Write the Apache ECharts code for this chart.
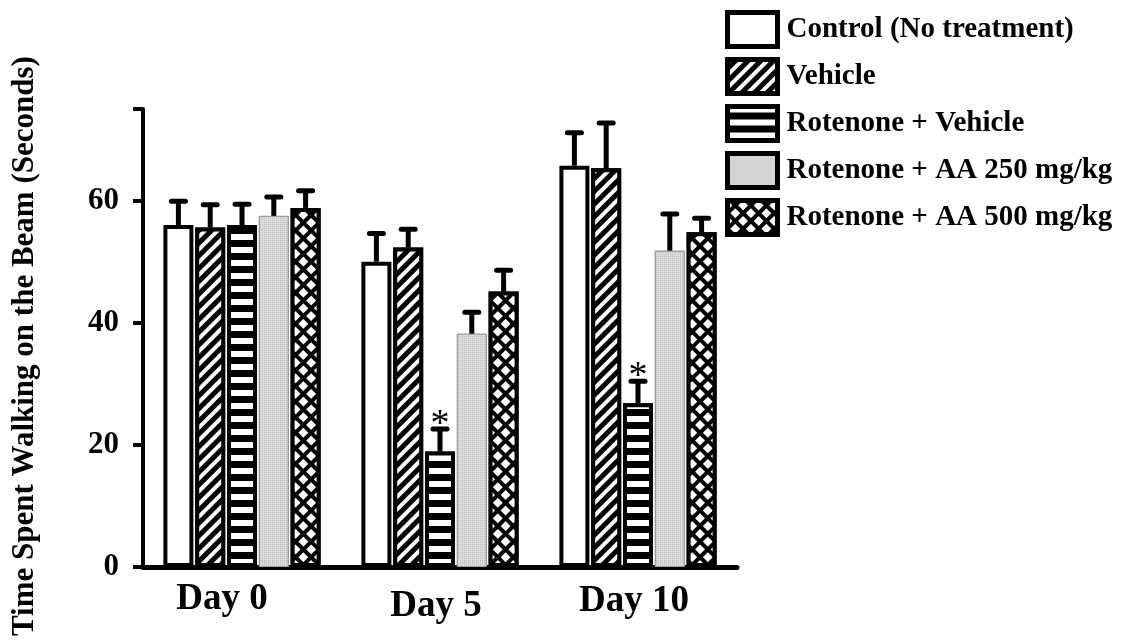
<!DOCTYPE html>
<html>
<head>
<meta charset="utf-8">
<script src="https://cdn.jsdelivr.net/npm/echarts@6/dist/echarts.min.js"></script>
<style>html,body{margin:0;padding:0;background:#fff}#c{width:1128px;height:640px}</style>
</head>
<body>
<div id="c"></div>
<script>
const categories = ['Day 0', 'Day 5', 'Day 10'];
const seriesNames = ['Control (No treatment)', 'Vehicle', 'Rotenone + Vehicle', 'Rotenone + AA 250 mg/kg', 'Rotenone + AA 500 mg/kg'];
const controlMean = [56.0, 50.0, 65.7];
const vehicleMean = [55.6, 52.3, 65.3];
const rotVehMean = [56.0, 18.9, 26.8];
const aa250Mean = [57.5, 38.2, 51.8];
const aa500Mean = [58.8, 45.1, 54.8];
const controlErr = [3.9, 4.6, 5.4];
const vehicleErr = [3.7, 3.0, 7.4];
const rotVehErr = [3.4, 3.7, 3.6];
const aa250Err = [3.1, 3.5, 6.0];
const aa500Err = [2.8, 3.5, 2.3];
const rotVehSig = ['', '*', '*'];
const yTicks = [0, 20, 40, 60];
const yTitle = 'Time Spent Walking on the Beam (Seconds)';

const means = [controlMean, vehicleMean, rotVehMean, aa250Mean, aa500Mean];
const errs = [controlErr, vehicleErr, rotVehErr, aa250Err, aa500Err];
const sigs = [['', '', ''], ['', '', ''], rotVehSig, ['', '', ''], ['', '', '']];

const FONT = '"Liberation Serif", "Times New Roman", serif';
const BAR_W = 30;
const GAP_RATIO = 0.06;
const n = seriesNames.length;
const gapPx = BAR_W * GAP_RATIO;
const total = n * BAR_W + (n - 1) * gapPx;
function offsetOf(i) { return -total / 2 + i * (BAR_W + gapPx) + BAR_W / 2; }

const styles = [
  { color: '#ffffff', borderColor: '#000', borderWidth: 4 },
  { color: '#000000', borderColor: '#000', borderWidth: 4,
    decal: { symbol: 'rect', color: '#ffffff', dashArrayX: [1, 0], dashArrayY: [4, 5], symbolSize: 1, rotation: -Math.PI / 4 } },
  { color: '#000000', borderColor: '#000', borderWidth: 4,
    decal: { symbol: 'rect', color: '#ffffff', dashArrayX: [1, 0], dashArrayY: [6, 7], symbolSize: 1, rotation: 0 } },
  { color: '#dcdcdc', borderColor: '#9a9a9a', borderWidth: 1,
    decal: { symbol: 'rect', color: '#bdbdbd', dashArrayX: [1, 1], dashArrayY: [1, 1], symbolSize: 1, rotation: 0 } },
  { color: '#000000', borderColor: '#000', borderWidth: 4,
    decal: { symbol: 'rect', color: '#ffffff', dashArrayX: [7, 4], dashArrayY: [7, 4], symbolSize: 1, rotation: Math.PI / 4 } }
];

const series = [];
seriesNames.forEach((name, i) => {
  series.push({
    name: name, type: 'bar', barWidth: BAR_W, barGap: (GAP_RATIO * 100) + '%',
    data: means[i], itemStyle: styles[i], z: 2, silent: true
  });
});
seriesNames.forEach((name, i) => {
  series.push({
    name: name + ' err', type: 'custom', z: 3, silent: true,
    data: means[i].map((m, k) => [k, m, errs[i][k]]),
    encode: { x: 0, y: 1 },
    renderItem: function (params, api) {
      const k = api.value(0), m = api.value(1), e = api.value(2);
      const p0 = api.coord([k, m]);
      const p1 = api.coord([k, m + e]);
      const x = p0[0] + offsetOf(i);
      const children = [
        { type: 'line', shape: { x1: x, y1: p0[1], x2: x, y2: p1[1] }, style: { stroke: '#000', lineWidth: 5 } },
        { type: 'line', shape: { x1: x - 7, y1: p1[1], x2: x + 7, y2: p1[1] }, style: { stroke: '#000', lineWidth: 5, lineCap: 'round' } }
      ];
      const s = sigs[i][params.dataIndex];
      if (s) {
        children.push({ type: 'text', style: { text: s, x: x, y: p1[1] - 4, align: 'center', verticalAlign: 'middle', fontFamily: FONT, fontSize: 38, fill: '#000' } });
      }
      return { type: 'group', children: children };
    }
  });
});

const labelRich = {
  d0: { fontFamily: FONT, fontWeight: 'bold', fontSize: 37, color: '#000', padding: [8, 40, 0, 0] },
  d1: { fontFamily: FONT, fontWeight: 'bold', fontSize: 37, color: '#000', padding: [15, 8, 0, 0] },
  d2: { fontFamily: FONT, fontWeight: 'bold', fontSize: 37, color: '#000', padding: [10, 8, 0, 0] }
};

const chart = echarts.init(document.getElementById('c'));
chart.setOption({
  animation: false,
  backgroundColor: '#fff',
  graphic: [{
    type: 'text', z: 10,
    x: 9, y: 636, rotation: Math.PI / 2,
    style: { text: yTitle, fontFamily: FONT, fontWeight: 'bold', fontSize: 31, fill: '#000', align: 'left', verticalAlign: 'top' }
  }],
  legend: {
    orient: 'vertical', left: 720, top: 5,
    itemWidth: 50, itemHeight: 34, itemGap: 8,
    textStyle: { fontFamily: FONT, fontWeight: 'bold', fontSize: 29, color: '#000', padding: [0, 0, 0, 4] },
    data: seriesNames.map((nm, i) => ({
      name: nm, icon: 'rect',
      itemStyle: { borderColor: '#000', borderWidth: 5 }
    })),
    selectedMode: false
  },
  grid: { left: 143, right: 391, top: 109, bottom: 73, containLabel: false },
  xAxis: {
    type: 'category', data: categories,
    axisLine: { lineStyle: { color: '#000', width: 5 } },
    axisTick: { show: false },
    axisLabel: { margin: 6, formatter: (v, idx) => '{d' + idx + '|' + v + '}', rich: labelRich }
  },
  yAxis: {
    type: 'value', min: 0, max: 75, interval: 20,
    splitLine: { show: false },
    axisLine: { show: true, lineStyle: { color: '#000', width: 4 } },
    axisTick: { show: true, length: 10, lineStyle: { color: '#000', width: 4 } },
    axisLabel: { fontFamily: FONT, fontWeight: 'bold', fontSize: 31, color: '#000', margin: 24,
      formatter: v => (yTicks.indexOf(v) >= 0 ? String(v) : '') }
  },
  series: series
});
</script>
</body>
</html>
